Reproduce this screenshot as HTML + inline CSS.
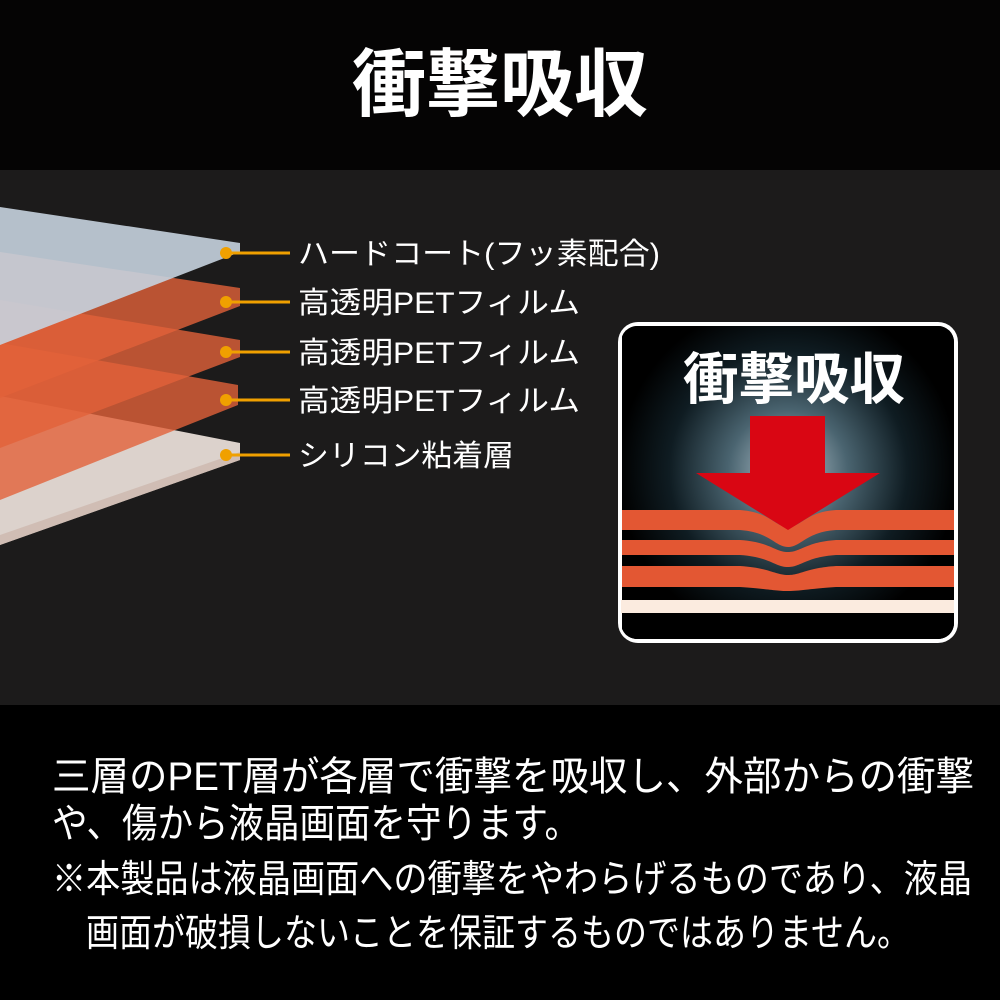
<!DOCTYPE html>
<html><head><meta charset="utf-8"><style>
html,body{margin:0;padding:0;background:#050404;}
svg{display:block;}
text{font-family:"Liberation Sans","Noto Sans CJK JP",sans-serif;fill:#fff;}
</style></head><body>
<svg width="1000" height="1000" viewBox="0 0 1000 1000" xmlns="http://www.w3.org/2000/svg">
<defs>
<radialGradient id="glow" cx="788" cy="470" r="170" gradientUnits="userSpaceOnUse">
<stop offset="0" stop-color="#b9c9d2"/>
<stop offset="0.35" stop-color="#4a6470"/>
<stop offset="0.7" stop-color="#0f1c22"/>
<stop offset="1" stop-color="#000"/>
</radialGradient>
<clipPath id="inner"><rect x="621" y="326" width="333" height="313" rx="16"/></clipPath>
</defs>
<rect x="0" y="0" width="1000" height="170" fill="#050404"/>
<rect x="0" y="170" width="1000" height="535" fill="#1c1b1b"/>
<rect x="0" y="705" width="1000" height="295" fill="#000"/>

<text x="500" y="110" font-size="74" font-weight="bold" text-anchor="middle" textLength="296" lengthAdjust="spacingAndGlyphs">衝撃吸収</text>

<!-- layers -->
<g>
<polygon points="0,396 240,443 240,460 0,545" fill="#dcd2cc"/>
<polygon points="240,452 240,460 0,545 0,535" fill="#cdb8ae" opacity="0.8"/>
<polygon points="0,343 238,385 238,405 0,500" fill="#e2623a" opacity="0.8"/>
<polygon points="0,300 240,340 240,357 0,448" fill="#e2623a" opacity="0.8"/>
<polygon points="0,252 240,288 240,306 0,398" fill="#e2623a" opacity="0.8"/>
<polygon points="0,207 240,243 240,252 0,345" fill="#c6d3df" opacity="0.9"/>
</g>
<g fill="#f0a000" stroke="#f0a000" stroke-width="3">
<circle cx="226" cy="253" r="6" stroke="none"/><line x1="226" y1="253" x2="290" y2="253"/>
<circle cx="226" cy="302" r="6" stroke="none"/><line x1="226" y1="302" x2="290" y2="302"/>
<circle cx="226" cy="352" r="6" stroke="none"/><line x1="226" y1="352" x2="290" y2="352"/>
<circle cx="226" cy="400" r="6" stroke="none"/><line x1="226" y1="400" x2="290" y2="400"/>
<circle cx="226" cy="455" r="6" stroke="none"/><line x1="226" y1="455" x2="290" y2="455"/>
</g>
<g font-size="30">
<text x="298" y="264" textLength="362" lengthAdjust="spacingAndGlyphs">ハードコート(フッ素配合)</text>
<text x="298" y="313" textLength="282" lengthAdjust="spacingAndGlyphs">高透明PETフィルム</text>
<text x="298" y="363" textLength="282" lengthAdjust="spacingAndGlyphs">高透明PETフィルム</text>
<text x="298" y="411" textLength="282" lengthAdjust="spacingAndGlyphs">高透明PETフィルム</text>
<text x="298" y="466" textLength="216" lengthAdjust="spacingAndGlyphs">シリコン粘着層</text>
</g>

<!-- icon box -->
<rect x="618" y="322" width="340" height="321" rx="20" fill="#fff"/>
<rect x="622" y="326" width="332" height="313" rx="16" fill="#000"/>
<g clip-path="url(#inner)">
<rect x="622" y="326" width="332" height="313" fill="url(#glow)"/>
<rect x="622" y="600" width="332" height="39" fill="#000"/>
<path d="M622,510 L740,510 C770,512 775,527 788,527 C801,527 806,512 836,510 L954,510 L954,530 L836,530 C806,532 801,547 788,547 C775,547 770,532 740,530 L622,530 Z" fill="#e35733"/>
<path d="M622,540 L740,540 C770,542 775,552 788,552 C801,552 806,542 836,540 L954,540 L954,555 L836,555 C806,557 801,567 788,567 C775,567 770,557 740,555 L622,555 Z" fill="#e35733"/>
<path d="M622,566 L740,566 C770,568 775,575 788,575 C801,575 806,568 836,566 L954,566 L954,587 L836,587 C806,589 801,591 788,591 C775,591 770,589 740,587 L622,587 Z" fill="#e35733"/>
<rect x="620" y="600" width="336" height="13" fill="#fbebdf"/>
<polygon points="750,416 825,416 825,473 880,473 788,530 696,473 750,473" fill="#d90613"/>
</g>
<text x="794" y="399" font-size="56" font-weight="bold" text-anchor="middle" textLength="222" lengthAdjust="spacingAndGlyphs">衝撃吸収</text>

<!-- bottom text -->
<g font-size="40">
<text x="52" y="790" textLength="922" lengthAdjust="spacingAndGlyphs">三層のPET層が各層で衝撃を吸収し、外部からの衝撃</text>
<text x="52" y="837" textLength="528" lengthAdjust="spacingAndGlyphs">や、傷から液晶画面を守ります。</text>
</g>
<g font-size="38">
<text x="52" y="892" textLength="920" lengthAdjust="spacingAndGlyphs">※本製品は液晶画面への衝撃をやわらげるものであり、液晶</text>
<text x="86" y="946" textLength="824" lengthAdjust="spacingAndGlyphs">画面が破損しないことを保証するものではありません。</text>
</g>
</svg>
</body></html>
